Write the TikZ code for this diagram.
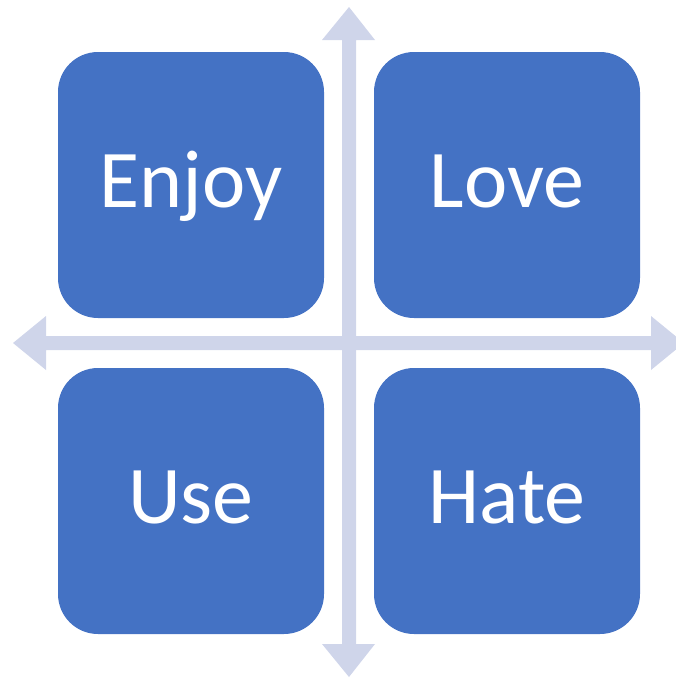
\documentclass[tikz,border=0pt]{standalone}
\usepackage{fontspec}
\setmainfont{Carlito}
\definecolor{boxblue}{HTML}{4472C4}
\definecolor{axisgrey}{HTML}{CFD5EA}
\begin{document}
\begin{tikzpicture}[x=1pt,y=-1pt,
  quad/.style={fill=boxblue, draw=none, rounded corners=40pt, minimum width=266pt, minimum height=266pt, inner sep=0pt, text=white, font=\fontsize{82}{98}\selectfont, text height=60pt, text depth=16pt},
  axis/.style={fill=axisgrey, draw=none}]
\useasboundingbox (0,0) rectangle (676,678);
% axes
\fill[axis] (342,40) -- (322,40) -- (349,7) -- (375,40) -- (356,40) -- (356,644) -- (375,644) -- (349,677) -- (322,644) -- (342,644) -- cycle;
\fill[axis] (46,336) -- (46,316) -- (13,343) -- (46,370) -- (46,350) -- (651,350) -- (651,370) -- (684,343) -- (651,316) -- (651,336) -- cycle;
% quadrants
\node[quad] (enjoy) at (191,185) {Enjoy};
\node[quad] (love) at (507,185) {Love};
\node[quad] (use) at (191,501) {Use};
\node[quad] (hate) at (507,501) {Hate};
\end{tikzpicture}
\end{document}
